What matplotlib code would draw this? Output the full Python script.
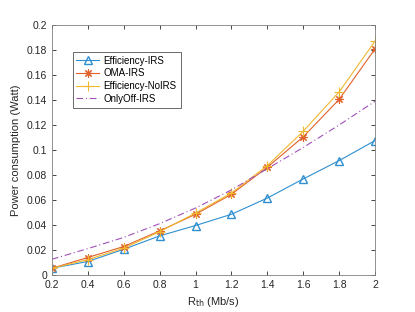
import matplotlib
matplotlib.use('Agg')
import matplotlib.pyplot as plt

rate = [0.2, 0.4, 0.6, 0.8, 1.0, 1.2, 1.4, 1.6, 1.8, 2.0]
eff_irs = [0.0053, 0.0107, 0.0205, 0.0312, 0.0395, 0.0485, 0.0615, 0.0768, 0.0915, 0.1075]
oma_irs = [0.0053, 0.0139, 0.0227, 0.0352, 0.0485, 0.0645, 0.0862, 0.1105, 0.1405, 0.1810]
eff_noirs = [0.0053, 0.0122, 0.0214, 0.0345, 0.0495, 0.0655, 0.0875, 0.1150, 0.1465, 0.1872]
onlyoff_irs = [0.0125, 0.0210, 0.0300, 0.0410, 0.0535, 0.0680, 0.0850, 0.1020, 0.1200, 0.1390]

plt.rcParams['font.family'] = ['Liberation Sans', 'DejaVu Sans']
plt.rcParams['font.size'] = 8

fig = plt.figure(figsize=(4.15, 3.12), dpi=100)
ax = fig.add_axes([0.125, 0.119, 0.779, 0.801])

ax.plot(rate, eff_irs, color='#2f8fd0', marker='^', mfc='none', ms=6, lw=0.8,
        label='Efficiency-IRS')
ax.plot(rate, oma_irs, color='#e0622a', marker=(8, 2, 0), ms=6, lw=0.8, mew=0.8,
        label='OMA-IRS')
ax.plot(rate, eff_noirs, color='#f0b830', marker='+', ms=7, lw=0.8, mew=0.8,
        label='Efficiency-NoIRS')
ax.plot(rate, onlyoff_irs, color='#a050b8', ls=(0, (6, 2.5, 1, 2.5)), lw=0.8,
        label='OnlyOff-IRS')

ax.set_xlim(0.2, 2)
ax.set_ylim(0, 0.2)
ax.set_xticks([0.2, 0.4, 0.6, 0.8, 1, 1.2, 1.4, 1.6, 1.8, 2])
ax.set_xticklabels(['0.2', '0.4', '0.6', '0.8', '1', '1.2', '1.4', '1.6', '1.8', '2'])
ax.set_yticks([0, 0.02, 0.04, 0.06, 0.08, 0.1, 0.12, 0.14, 0.16, 0.18, 0.2])
ax.set_yticklabels(['0', '0.02', '0.04', '0.06', '0.08', '0.1', '0.12', '0.14',
                    '0.16', '0.18', '0.2'])
ax.set_xlabel('R$_{\\mathrm{th}}$ (Mb/s)', color='#262626', fontsize=8)
ax.set_ylabel('Power consumption (Watt)', color='#262626', fontsize=8)

ax.tick_params(direction='in', top=True, right=True, length=3, width=0.6,
               colors='#262626', labelsize=7.5)
for each in ['top', 'bottom', 'right', 'left']:
    ax.spines[each].set_linewidth(0.6)
    ax.spines[each].set_color('#808080')

leg = ax.legend(loc='upper left', bbox_to_anchor=(0.055, 0.905), fancybox=False,
                edgecolor='#262626', fontsize=7, handlelength=2.3,
                handletextpad=0.5, borderpad=0.4, labelspacing=0.28,
                borderaxespad=0.3)
leg.get_frame().set_linewidth(0.6)

fig.savefig('out.png', dpi=100)
